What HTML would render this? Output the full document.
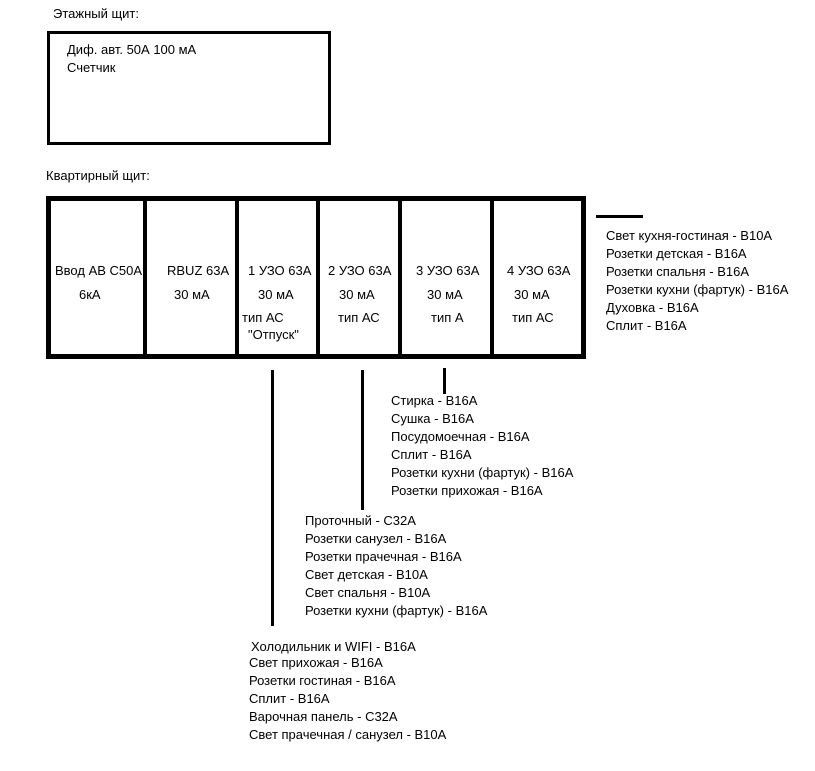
<!DOCTYPE html>
<html><head><meta charset="utf-8"><style>
body{margin:0;width:815px;height:771px;background:#fff;position:relative;overflow:hidden;font-family:"Liberation Sans","DejaVu Sans",sans-serif;font-size:13px;color:#000}
.a{position:absolute;white-space:nowrap;line-height:18px}
.l{position:absolute;background:#000}
</style></head><body>
<div class="a" style="left:53px;top:5px">Этажный щит:</div>
<div class="l" style="left:47px;top:31px;width:284px;height:3px"></div>
<div class="l" style="left:47px;top:142px;width:284px;height:3px"></div>
<div class="l" style="left:47px;top:31px;width:3px;height:114px"></div>
<div class="l" style="left:328px;top:31px;width:3px;height:114px"></div>
<div class="a" style="left:67px;top:41px">Диф. авт. 50А 100 мА<br>Счетчик</div>
<div class="a" style="left:46px;top:167px">Квартирный щит:</div>

<div class="l" style="left:46px;top:196px;width:540px;height:5px"></div>
<div class="l" style="left:46px;top:354px;width:540px;height:5px"></div>
<div class="l" style="left:46px;top:196px;width:5px;height:163px"></div>
<div class="l" style="left:581px;top:196px;width:5px;height:163px"></div>
<div class="l" style="left:143px;top:196px;width:4px;height:163px"></div>
<div class="l" style="left:235px;top:196px;width:4px;height:163px"></div>
<div class="l" style="left:316px;top:196px;width:4px;height:163px"></div>
<div class="l" style="left:398px;top:196px;width:4px;height:163px"></div>
<div class="l" style="left:490px;top:196px;width:4px;height:163px"></div>

<div class="a" style="left:55px;top:262px">Ввод АВ С50А</div>
<div class="a" style="left:79px;top:286px">6кА</div>
<div class="a" style="left:167px;top:262px">RBUZ 63A</div>
<div class="a" style="left:174px;top:286px">30 мА</div>
<div class="a" style="left:248px;top:262px">1 УЗО 63А</div>
<div class="a" style="left:258px;top:286px">30 мА</div>
<div class="a" style="left:242px;top:309px">тип АС</div>
<div class="a" style="left:248px;top:326px">"Отпуск"</div>
<div class="a" style="left:328px;top:262px">2 УЗО 63А</div>
<div class="a" style="left:339px;top:286px">30 мА</div>
<div class="a" style="left:338px;top:309px">тип АС</div>
<div class="a" style="left:416px;top:262px">3 УЗО 63А</div>
<div class="a" style="left:427px;top:286px">30 мА</div>
<div class="a" style="left:431px;top:309px">тип А</div>
<div class="a" style="left:507px;top:262px">4 УЗО 63А</div>
<div class="a" style="left:514px;top:286px">30 мА</div>
<div class="a" style="left:512px;top:309px">тип АС</div>

<div class="l" style="left:596px;top:215px;width:47px;height:3px"></div>
<div class="a" style="left:606px;top:227px">Свет кухня-гостиная - В10А<br>Розетки детская - В16А<br>Розетки спальня - В16А<br>Розетки кухни (фартук) - В16А<br>Духовка - В16А<br>Сплит - В16А</div>

<div class="l" style="left:443px;top:368px;width:3px;height:26px"></div>
<div class="a" style="left:391px;top:392px">Стирка - В16А<br>Сушка - В16А<br>Посудомоечная - В16А<br>Сплит - В16А<br>Розетки кухни (фартук) - В16А<br>Розетки прихожая - В16А</div>

<div class="l" style="left:361px;top:370px;width:3px;height:140px"></div>
<div class="a" style="left:305px;top:512px">Проточный - С32А<br>Розетки санузел - В16А<br>Розетки прачечная - В16А<br>Свет детская - В10А<br>Свет спальня - В10А<br>Розетки кухни (фартук) - В16А</div>

<div class="l" style="left:271px;top:370px;width:3px;height:256px"></div>
<div class="a" style="left:251px;top:638px">Холодильник и WIFI - В16А</div>
<div class="a" style="left:249px;top:654px">Свет прихожая - В16А<br>Розетки гостиная - В16А<br>Сплит - В16А<br>Варочная панель - С32А<br>Свет прачечная / санузел - В10А</div>
</body></html>
